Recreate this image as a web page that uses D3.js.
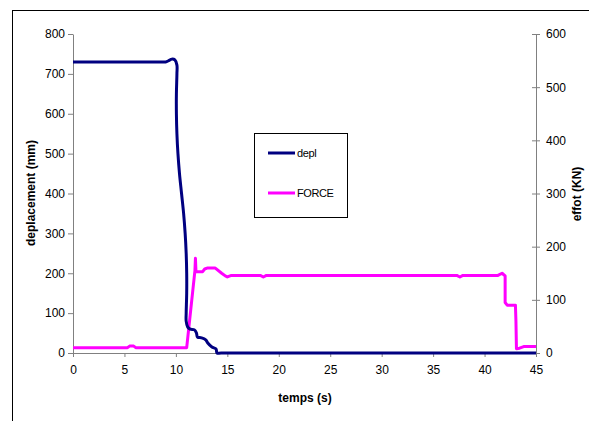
<!DOCTYPE html>
<html><head><meta charset="utf-8">
<script src="https://cdn.jsdelivr.net/npm/d3@7"></script>
<style>body{margin:0;background:#fff}svg{display:block}text{font-family:"Liberation Sans",Arial,sans-serif}</style>
</head><body><svg id="c" width="589" height="421"></svg>
<script>
const xTicks = [0,5,10,15,20,25,30,35,40,45];
const yLeftTicks = [0,100,200,300,400,500,600,700,800];
const yRightTicks = [0,100,200,300,400,500,600];
const seriesNames = ["depl","FORCE"];
const deplT = [0,8.6,9.0,9.3,9.6,9.9,10.1,10.1,10.05,10.05,10.1,10.2,10.35,10.55,10.75,10.9,11.0,11.05,11.05,11.0,11.0,11.15,11.4,11.8,12.0,12.1,12.5,12.9,13.1,13.5,13.9,14.0,14.4,45];
const deplV = [730,730,730,733,737,735,722,700,650,600,550,500,450,400,350,300,250,200,150,100,80,65,60,58,50,40,38,33,25,15,10,0,0,0];
const forceT = [0,5.3,5.5,5.9,6.1,11.05,11.85,11.9,11.95,12.6,12.8,13.1,13.8,14.45,14.8,15.0,15.4,18.2,18.5,18.8,37.3,37.6,37.9,41.3,41.7,42.0,42.0,42.2,43.0,43.05,43.1,43.4,43.8,45];
const forceV = [10,10,13,13,10,10,155,178,153,153,158,160,160,150,145,143,146,146,143,146,146,143,146,146,150,145,95,90,90,60,8,9,12,12];

const svg = d3.select("#c");
const colors = {depl:"#000080", FORCE:"#FF00FF"};
const x = d3.scaleLinear().domain([0,45]).range([73,536]);
const yL = d3.scaleLinear().domain([0,800]).range([353,34]);
const yR = d3.scaleLinear().domain([0,600]).range([353,34]);

// outer frame
svg.append("rect").attr("x",12.5).attr("y",10.5).attr("width",700).attr("height",600)
  .attr("fill","none").attr("stroke","#000").attr("stroke-width",1);

const axStyle = g => {
  g.selectAll("path").attr("stroke","#808080");
  g.selectAll("line").attr("stroke","#808080");
  g.selectAll("text").attr("font-size","12px").attr("fill","#000");
};

svg.append("g").attr("transform","translate(0,353)")
  .call(d3.axisBottom(x).tickValues(xTicks).tickSizeInner(4).tickSizeOuter(0).tickPadding(8))
  .call(axStyle);
svg.append("g").attr("transform","translate(73,0)")
  .call(d3.axisLeft(yL).tickValues(yLeftTicks).tickSizeInner(5).tickSizeOuter(0).tickPadding(3))
  .call(axStyle);
const gR = svg.append("g").attr("transform","translate(536,0)")
  .call(d3.axisRight(yR).tickValues(yRightTicks).tickSizeInner(4).tickSizeOuter(0).tickPadding(6))
  .call(axStyle);
gR.selectAll(".tick line").attr("x1",-4);

const deplData = deplT.map((t,i)=>[t,deplV[i]]);
const forceData = forceT.map((t,i)=>[t,forceV[i]]);

svg.append("path").datum(forceData)
  .attr("fill","none").attr("stroke",colors.FORCE).attr("stroke-width",3).attr("stroke-linejoin","round")
  .attr("d", d3.line().x(d=>x(d[0])).y(d=>yR(d[1])));
svg.append("path").datum(deplData)
  .attr("fill","none").attr("stroke",colors.depl).attr("stroke-width",3).attr("stroke-linejoin","round")
  .attr("d", d3.line().curve(d3.curveCatmullRom.alpha(0.5)).x(d=>x(d[0])).y(d=>yL(d[1])));

// axis titles
svg.append("text").attr("x",305).attr("y",402).attr("text-anchor","middle")
  .attr("font-size","12px").attr("font-weight","bold").text("temps (s)");
svg.append("text").attr("transform","translate(35,193) rotate(-90)").attr("text-anchor","middle")
  .attr("font-size","12px").attr("font-weight","bold").text("deplacement (mm)");
svg.append("text").attr("transform","translate(581,194) rotate(-90)").attr("text-anchor","middle")
  .attr("font-size","12px").attr("font-weight","bold").text("effot (KN)");

// legend
const lg = svg.append("g");
lg.append("rect").attr("x",254.5).attr("y",133.5).attr("width",93).attr("height",84)
  .attr("fill","#fff").attr("stroke","#000").attr("stroke-width",1);
seriesNames.forEach((s,i)=>{
  const yy = 153 + i*40;
  lg.append("line").attr("x1",268).attr("x2",295).attr("y1",yy).attr("y2",yy)
    .attr("stroke",colors[s]).attr("stroke-width",3);
  lg.append("text").attr("x",297).attr("y",yy+4).attr("font-size","11px").attr("letter-spacing","-0.4px").text(s);
});
</script></body></html>
